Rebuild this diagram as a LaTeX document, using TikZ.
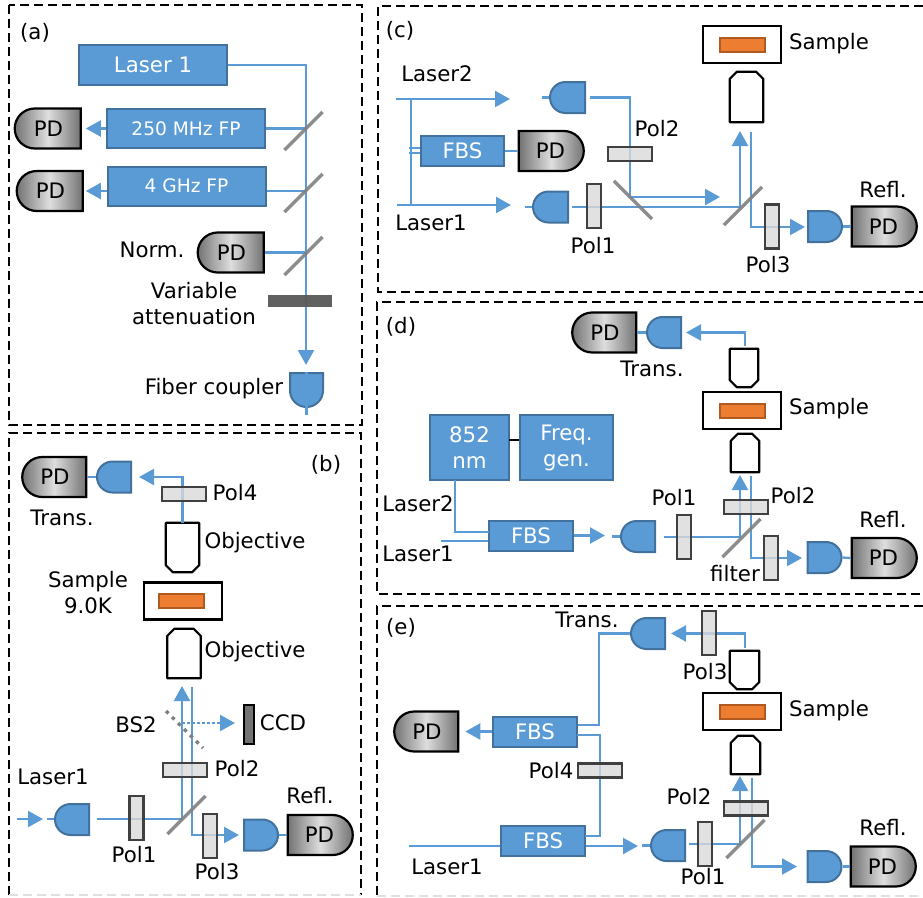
\documentclass[tikz,border=0pt]{standalone}
\usepackage{fontspec}
\setmainfont{DejaVu Sans}
\usepackage{tikz}
\usetikzlibrary{arrows.meta,shapes.misc}
\definecolor{beamblue}{HTML}{5B9BD5}
\definecolor{boxline}{HTML}{41719C}
\definecolor{orangefill}{HTML}{ED7D31}
\definecolor{orangeline}{HTML}{AE5A21}
\pgfdeclarelayer{front}
\pgfsetlayers{main,front}
\newcommand{\objUp}[1]{\draw [objline] (#1.south west) -- ([yshift=-7pt]#1.north west) -- ([xshift=7pt]#1.north west) -- ([xshift=-7pt]#1.north east) -- ([yshift=-7pt]#1.north east) -- (#1.south east) -- cycle;}
\newcommand{\objDn}[1]{\draw [objline] (#1.north west) -- ([yshift=7pt]#1.south west) -- ([xshift=7pt]#1.south west) -- ([xshift=-7pt]#1.south east) -- ([yshift=7pt]#1.south east) -- (#1.north east) -- cycle;}

\begin{document}
\begin{tikzpicture}[x=1pt,y=1pt]
\tikzstyle{every node}+=[inner sep=0pt,font=\fontsize{21.3}{26}\selectfont]
\tikzstyle{frame}=[black,line width=2.4pt,dash pattern=on 9pt off 5pt]
\tikzstyle{palefr}=[black!12,line width=2.4pt,dash pattern=on 9pt off 5pt]
\tikzstyle{ray}=[beamblue,line width=2.3pt]
\tikzstyle{tip}=[-{Triangle[length=15pt,width=16pt]}]
\tikzstyle{box}=[draw=boxline,fill=beamblue,line width=2pt,text=white]
\tikzstyle{fpbox}=[box,minimum width=158pt,minimum height=39pt,font=\fontsize{18.6}{24}\selectfont]
\tikzstyle{fbs}=[box,minimum width=84pt,minimum height=30pt]
\tikzstyle{pd}=[rounded rectangle,draw=black,line width=2.2pt,left color=black!55,right color=black!55,middle color=black!13,minimum width=65pt,minimum height=40pt]
\tikzstyle{pdl}=[pd,rounded rectangle east arc=none]
\tikzstyle{pdr}=[pd,rounded rectangle west arc=none]
\tikzstyle{cpl}=[rounded rectangle,draw=boxline,fill=beamblue,line width=2pt,minimum width=34pt,minimum height=31pt]
\tikzstyle{cpll}=[cpl,rounded rectangle east arc=none]
\tikzstyle{cplr}=[cpl,rounded rectangle west arc=none]
\tikzstyle{polh}=[draw=black!75,fill=black!15,line width=2.2pt,fill opacity=.8,minimum width=44pt,minimum height=14pt]
\tikzstyle{polv}=[polh,minimum width=14pt,minimum height=44pt]
\tikzstyle{bsplit}=[fill=black!50,opacity=.9,minimum width=54pt,minimum height=3.5pt]
\tikzstyle{objline}=[black,line width=2.2pt,line join=round]
\tikzstyle{cryo}=[draw=black,line width=2.2pt,minimum width=78pt,minimum height=37pt]
\tikzstyle{chip}=[draw=orangeline,fill=orangefill,line width=2pt,minimum width=45pt,minimum height=14pt]
\useasboundingbox (0,0) rectangle (923,-897);

\draw [frame] (9,-5) rectangle (362,-425);
\draw [frame] (9,-895) -- (9,-433) -- (361,-433) -- (361,-895);
\draw [palefr] (9,-895) -- (361,-895);
\draw [frame] (923,-6) -- (378,-6) -- (378,-292) -- (923,-292);
\draw [frame] (923,-302) -- (377,-302) -- (377,-594) -- (923,-594);
\draw [frame] (923,-606) -- (377,-606) -- (377,-896);
\draw [palefr] (377,-896) -- (923,-896);

\node (tagA) at (35,-33) {(a)};
\node [box,minimum width=148pt,minimum height=40pt] (laserA) at (153,-65) {Laser 1};
\node [fpbox] (fpA) at (186,-128.5) {250 MHz FP};
\node [fpbox] (fpB) at (186.5,-186) {4 GHz FP};
\node [pdl,minimum width=66pt] (pdA) at (48.5,-128.5) {PD};
\node [pdl,minimum width=66pt] (pdB) at (50.5,-191) {PD};
\node [pdl,minimum width=66pt] (pdNorm) at (231.5,-252.5) {PD};
\node (lblNorm) at (152,-250) {Norm.};
\node [align=center] (lblVar) at (194,-304) {Variable\\attenuation};
\node (lblFib) at (214,-389) {Fiber coupler};
\node [cpl,rounded rectangle east arc=none,rotate=90,minimum height=33pt] (cplA) at (306.5,-390) {};
\coordinate (tipA) at (306,-365);
\coordinate (endA) at (306.5,-415);
\coordinate (rayB) at (306,-191);
\begin{pgfonlayer}{front}
\node [bsplit,rotate=45] (bsA) at (303.5,-131) {};
\node [bsplit,rotate=45] (bsB) at (303.5,-193) {};
\node [bsplit,rotate=45] (bsC) at (303.5,-256) {};
\node [fill=black!65,opacity=.95,minimum width=64pt,minimum height=12pt] (atten) at (300,-301) {};
\end{pgfonlayer}
\draw [ray,tip] (laserA.east) -| (tipA);
\draw [ray] (fpA.east) -- (fpA.east -| tipA);
\draw [ray] (rayB -| fpB.east) -- (rayB);
\draw [ray] (pdNorm.east) -- (pdNorm.east -| tipA);
\draw [ray,tip,shorten >=4pt] (fpA.west) -- (fpA.west -| pdA.east);
\draw [ray,tip,shorten >=2pt] (rayB -| fpB.west) -- (rayB -| pdB.east);
\draw [ray] (cplA.east) -- (endA);

\node (tagB) at (326,-465) {(b)};
\node [pdl,minimum width=64pt] (pdTb) at (55,-477) {PD};
\node [cpll] (cplTb) at (114,-477) {};
\node (lblTb) at (62,-518) {Trans.};
\node (lblPol4b) at (235,-493) {Pol4};
\node [minimum width=33pt,minimum height=49pt] (objTb) at (182.5,-547.5) {};
\objDn{objTb}
\node (lblObjTb) at (255,-543) {Objective};
\node [cryo] (cryoB) at (183,-601) {};
\node [chip] (chipB) at (181.5,-601) {};
\node [align=center] (lblSampB) at (88,-593) {Sample\\9.0K};
\node [minimum width=33pt,minimum height=49pt] (objBb) at (184,-653.5) {};
\objUp{objBb}
\node (lblObjBb) at (255,-652) {Objective};
\node (lblBS) at (136,-725) {BS2};
\node [draw=black,fill=black!55,line width=2pt,minimum width=10pt,minimum height=39pt] (ccdB) at (249,-724.5) {};
\node (lblCCD) at (283,-723) {CCD};
\node (lblPol2b) at (237,-769) {Pol2};
\node (lblLasB) at (53,-777) {Laser1};
\node (lblPol1b) at (134,-855) {Pol1};
\node (lblPol3b) at (217,-872) {Pol3};
\node (lblRb) at (310,-796) {Refl.};
\node [cpll] (cplLb) at (72,-819.5) {};
\node [cplr] (cplRb) at (261,-835) {};
\node [pdr] (pdRb) at (319.5,-835) {PD};
\coordinate (inB) at (17,-819);
\coordinate (inTipB) at (43,-819);
\coordinate (stubB) at (47,-819);
\coordinate (srcB) at (97,-819);
\coordinate (upB) at (182,-686);
\coordinate (dnB) at (192,-687);
\coordinate (dnTipB) at (239,-835);
\coordinate (dotB) at (182,-723);
\coordinate (dotTipB) at (235,-723);
\coordinate (bsAb) at (166,-711);
\coordinate (bsBb) at (203,-748);
\coordinate (topTipB) at (139,-477);
\begin{pgfonlayer}{front}
\node [polh] (pol4b) at (184,-494) {};
\node [polh] (pol2b) at (185,-770) {};
\node [polv] (pol1b) at (136.5,-818) {};
\node [polv] (pol3b) at (210,-836) {};
\node [bsplit,rotate=45] (bsDb) at (186.5,-815) {};
\draw [black!50,line width=3.5pt,dash pattern=on 3.5pt off 5pt] (bsAb) -- (bsBb);
\end{pgfonlayer}
\draw [ray] (pdTb.east) -- (cplTb.west);
\draw [ray,tip] (objTb.north) |- (topTipB);
\draw [ray,tip] (inB) -- (inTipB);
\draw [ray] (stubB) -- (cplLb.west |- stubB);
\draw [ray,tip] (srcB) -| (upB);
\draw [ray,tip] (dnB) |- (dnTipB);
\draw [ray,dash pattern=on 2.5pt off 2.5pt,tip] (dotB) -- (dotTipB);
\draw [ray] (cplRb.east) -- (pdRb.west);

\node (tagC) at (400,-31) {(c)};
\node [cryo] (cryoC) at (742,-44.5) {};
\node [chip] (chipC) at (742,-44.5) {};
\node (lblSampC) at (829,-44) {Sample};
\node [minimum width=33pt,minimum height=50pt] (objC) at (746.5,-97) {};
\objUp{objC}
\node (lblLas2c) at (437,-74) {Laser2};
\node (lblLas1c) at (431,-223) {Laser1};
\node [cpll,minimum width=35pt] (cplAc) at (567.5,-97.5) {};
\node [cpll,minimum width=35pt] (cplBc) at (550.5,-207) {};
\node [fbs,minimum width=83pt] (fbsC) at (462.5,-151) {FBS};
\node [pdr] (pdMc) at (550.5,-151) {PD};
\node (lblPol2c) at (657,-129) {Pol2};
\node (lblPol1c) at (593,-246) {Pol1};
\node (lblPol3c) at (768,-265) {Pol3};
\node (lblRc) at (883,-190) {Refl.};
\node [cplr] (cplRc) at (825,-226.5) {};
\node [pdr] (pdRc) at (883.5,-226.5) {PD};
\coordinate (inAc) at (396,-99);
\coordinate (tipAc) at (510,-99);
\coordinate (inBc) at (397,-205);
\coordinate (tipBc) at (511,-205);
\coordinate (busAc) at (411,-99);
\coordinate (busBc) at (411,-205);
\coordinate (stubAc) at (409,-148);
\coordinate (stubBc) at (409,-153);
\coordinate (feedAc) at (542,-97.5);
\coordinate (feedBc) at (525,-207);
\coordinate (srcAc) at (590,-97.5);
\coordinate (cornAc) at (630,-197);
\coordinate (tipCc) at (720,-197);
\coordinate (srcBc) at (572,-207);
\coordinate (upC) at (740,-131);
\coordinate (dnC) at (751,-132);
\coordinate (dnTipC) at (805,-227);
\begin{pgfonlayer}{front}
\node [polh] (pol2c) at (630,-154) {};
\node [polv] (pol1c) at (594,-206) {};
\node [polv] (pol3c) at (772,-226.5) {};
\node [bsplit,rotate=-45] (bsAc) at (633,-200) {};
\node [bsplit,rotate=45] (bsBc) at (743,-206) {};
\end{pgfonlayer}
\draw [ray,tip] (inAc) -- (tipAc);
\draw [ray,tip] (inBc) -- (tipBc);
\draw [ray] (busAc) -- (busBc);
\draw [ray] (stubAc) -- (stubAc -| fbsC.west);
\draw [ray] (stubBc) -- (stubBc -| fbsC.west);
\draw [ray] (fbsC.east) -- (pdMc.west);
\draw [ray] (feedAc) -- (cplAc.west);
\draw [ray] (feedBc) -- (cplBc.west);
\draw [ray] (srcAc) -| (cornAc);
\draw [ray,tip] (cornAc) -- (tipCc);
\draw [ray,tip] (srcBc) -| (upC);
\draw [ray,tip] (dnC) |- (dnTipC);
\draw [ray] (cplRc.east) -- (pdRc.west);

\node (tagD) at (401,-327) {(d)};
\node [pdl,minimum width=64pt] (pdTd) at (605,-332.5) {PD};
\node [cpll] (cplTd) at (664,-332.5) {};
\node (lblTd) at (652,-369) {Trans.};
\node [minimum width=28pt,minimum height=38pt] (objTd) at (744,-368) {};
\objDn{objTd}
\node [cryo] (cryoD) at (742,-410.5) {};
\node [chip] (chipD) at (742,-410.5) {};
\node (lblSampD) at (829,-409) {Sample};
\node [minimum width=28pt,minimum height=38pt] (objBd) at (745,-453) {};
\objUp{objBd}
\node [box,minimum width=79pt,minimum height=65pt,align=center] (laserD) at (469.5,-447.5) {852\\nm};
\node [box,minimum width=93pt,minimum height=65pt,align=center] (freqD) at (566.5,-447.5) {Freq.\\gen.};
\node [fbs] (fbsD) at (531,-535.5) {FBS};
\node (lblLas2d) at (418,-504) {Laser2};
\node (lblLas1d) at (418,-554) {Laser1};
\node [cpll] (cplLd) at (638,-536.5) {};
\node (lblPol1d) at (674,-498) {Pol1};
\node (lblPol2d) at (793,-496) {Pol2};
\node (lblFilt) at (735,-574) {filter};
\node (lblRd) at (883,-520) {Refl.};
\node [cplr] (cplRd) at (824.5,-557.5) {};
\node [pdr] (pdRd) at (883.5,-558) {PD};
\coordinate (joinD) at (509,-440);
\coordinate (upLasD) at (455,-480);
\coordinate (inTopD) at (489,-532);
\coordinate (inBotD) at (441,-541);
\coordinate (tipFbsD) at (605,-535.5);
\coordinate (feedD) at (612,-536.5);
\coordinate (srcD) at (664,-537);
\coordinate (upD) at (740,-475);
\coordinate (dnD) at (751,-476);
\coordinate (dnTipD) at (802,-558);
\coordinate (riseD) at (745,-346);
\coordinate (tipTd) at (686,-332.5);
\begin{pgfonlayer}{front}
\node [polv] (pol1d) at (684,-537) {};
\node [polh] (pol2d) at (746,-507) {};
\node [polv] (pol3d) at (771,-558) {};
\node [bsplit,rotate=45] (bsD) at (741.5,-538) {};
\end{pgfonlayer}
\draw [ray] (pdTd.east) -- (cplTd.west);
\draw [ray,tip] (riseD) |- (tipTd);
\draw [black,line width=2.2pt] (joinD) -- (joinD -| freqD.west);
\draw [ray] (upLasD) |- (inTopD);
\draw [ray] (inBotD) -- (inBotD -| fbsD.west);
\draw [ray,tip] (fbsD.east) -- (tipFbsD);
\draw [ray] (feedD) -- (cplLd.west);
\draw [ray,tip] (srcD) -| (upD);
\draw [ray,tip] (dnD) |- (dnTipD);
\draw [ray] (cplRd.east) -- (pdRd.west);

\node (tagE) at (401,-628) {(e)};
\node [cpll] (cplTe) at (648,-633.5) {};
\node (lblTe) at (587,-620) {Trans.};
\node (lblPol3e) at (705,-672) {Pol3};
\node [minimum width=29pt,minimum height=38pt] (objTe) at (744.5,-670) {};
\objDn{objTe}
\node [cryo] (cryoE) at (742,-711.5) {};
\node [chip] (chipE) at (742,-711.5) {};
\node (lblSampE) at (829,-711) {Sample};
\node [minimum width=29pt,minimum height=38pt] (objBe) at (745.5,-755) {};
\objUp{objBe}
\node [fbs] (fbsAe) at (535,-731.5) {FBS};
\node [fbs] (fbsBe) at (543,-840.5) {FBS};
\node [pdl,minimum width=64pt] (pdLe) at (427,-731.5) {PD};
\node (lblPol4e) at (551,-771) {Pol4};
\node (lblLas1e) at (447,-867) {Laser1};
\node [cpll] (cplLe) at (668,-845.5) {};
\node (lblPol1e) at (703,-877) {Pol1};
\node (lblPol2e) at (689,-797) {Pol2};
\node (lblRe) at (883,-828) {Refl.};
\node [cplr] (cplRe) at (824.5,-866.5) {};
\node [pdr] (pdRe) at (882.5,-866.5) {PD};
\coordinate (riseE) at (745,-648);
\coordinate (tipTe) at (671,-633.5);
\coordinate (cornAe) at (599,-633.5);
\coordinate (cornBe) at (599,-725);
\coordinate (outBe) at (577,-735);
\coordinate (cornCe) at (600,-735);
\coordinate (cornDe) at (600,-836);
\coordinate (outDe) at (585,-836);
\coordinate (inE) at (409,-846);
\coordinate (tipFbsE) at (638,-846);
\coordinate (feedE) at (642,-845.5);
\coordinate (srcE) at (689,-844);
\coordinate (upE) at (740,-776);
\coordinate (dnE) at (752,-778);
\coordinate (dnTipE) at (797,-866.5);
\begin{pgfonlayer}{front}
\node [polv] (pol3e) at (709,-633) {};
\node [polh] (pol4e) at (600,-770.5) {};
\node [polv] (pol1e) at (705,-844) {};
\node [polh] (pol2e) at (746,-808.5) {};
\node [bsplit,rotate=45] (bsE) at (745.5,-839) {};
\end{pgfonlayer}
\draw [ray,tip] (riseE) |- (tipTe);
\draw [ray] (cplTe.west) -- (cornAe) -- (cornBe) -- (cornBe -| fbsAe.east);
\draw [ray] (outBe) -- (cornCe) -- (cornDe) -- (outDe);
\draw [ray,tip,shorten >=6pt] (fbsAe.west) -- (fbsAe.west -| pdLe.east);
\draw [ray] (inE) -- (inE -| fbsBe.west);
\draw [ray,tip] (inE -| fbsBe.east) -- (tipFbsE);
\draw [ray] (feedE) -- (cplLe.west);
\draw [ray,tip] (srcE) -| (upE);
\draw [ray,tip] (dnE) |- (dnTipE);
\draw [ray] (cplRe.east) -- (pdRe.west);
\end{tikzpicture}
\end{document}
